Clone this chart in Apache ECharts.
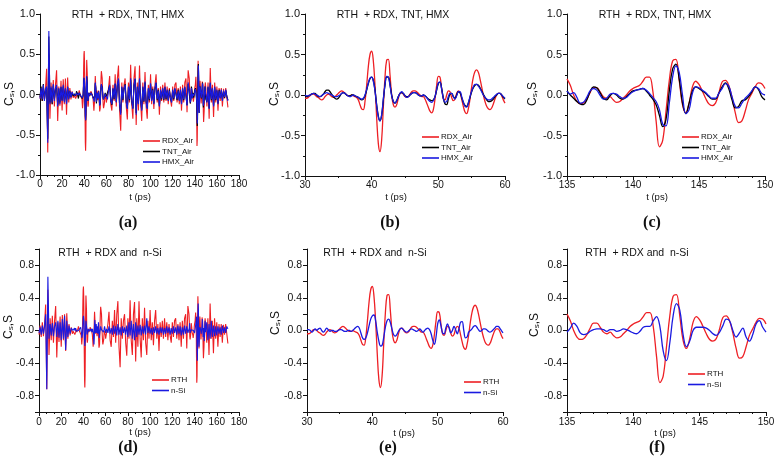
<!DOCTYPE html>
<html><head><meta charset="utf-8">
<script src="https://cdn.jsdelivr.net/npm/echarts@6/dist/echarts.min.js"></script>
<style>html,body{margin:0;padding:0;background:#fff}#c{width:781px;height:470px}</style>
</head><body><div id="c"></div>
<script>
// ---------- data: segments of the time signals ----------
// overview segments, 1 ps step: t = 0..29, 61..134, 151..170
// detailed segments, 0.25 ps step: t = 30..60 (B), 135..150 (C)
const rdxA0 = [-0.05,0.06,-0.08,0.10,-0.07,0.08,0.32,-0.72,0.50,-0.30,0.15,-0.12,0.18,-0.15,0.12,0.30,-0.33,0.10,-0.14,0.17,-0.20,0.19,-0.12,0.20,-0.25,0.21,-0.10,0.08,-0.06,0.04];
const tntA0 = [-0.03,0.10,-0.08,0.13,-0.06,0.05,0.08,-0.55,0.72,-0.10,0.08,-0.12,0.11,-0.06,0.07,0.10,-0.13,0.07,-0.10,0.09,-0.07,0.10,-0.08,0.07,-0.10,0.09,-0.05,0.04,-0.03,0.02];
const hmxA0 = [-0.05,0.08,-0.06,0.12,-0.08,0.06,0.10,-0.60,0.79,-0.12,0.10,-0.10,0.13,-0.08,0.08,0.12,-0.15,0.08,-0.12,0.10,-0.08,0.12,-0.10,0.08,-0.12,0.10,-0.06,0.05,-0.04,0.03];
const siA0  = [-0.03,0.04,-0.05,0.06,-0.04,0.05,0.20,-0.72,0.66,-0.10,0.08,-0.06,0.09,-0.07,0.05,0.10,-0.08,0.12,-0.09,0.10,-0.12,0.14,-0.10,0.18,-0.24,0.12,-0.08,0.06,-0.04,0.03];

const rdxB = [-0.04,-0.04,-0.03,-0.01,0.01,0.01,0.00,-0.02,
 -0.03,-0.05,-0.06,-0.05,-0.02,0.00,0.01,0.00,
 -0.02,-0.03,-0.02,0.00,0.02,0.04,0.05,0.04,
 0.02,0.00,-0.01,-0.01,0.00,-0.01,-0.02,-0.03,
 -0.06,-0.12,-0.17,-0.18,-0.08,0.12,0.35,0.50,
 0.54,0.42,0.12,-0.28,-0.60,-0.70,-0.55,-0.15,
 0.22,0.43,0.44,0.25,0.00,-0.12,-0.15,-0.12,
 -0.04,0.02,0.03,0.01,-0.02,-0.03,-0.02,0.01,
 0.04,0.05,0.05,0.04,0.02,0.00,-0.02,-0.02,
 -0.05,-0.10,-0.15,-0.20,-0.22,-0.18,-0.05,0.12,
 0.23,0.22,0.08,-0.04,-0.06,0.00,0.05,0.04,
 -0.03,-0.07,-0.05,0.02,0.05,0.03,-0.05,-0.14,
 -0.21,-0.23,-0.17,-0.05,0.10,0.22,0.29,0.31,
 0.28,0.20,0.10,0.00,-0.08,-0.14,-0.17,-0.18,
 -0.16,-0.11,-0.05,0.00,0.02,0.02,-0.01,-0.06,
 -0.10];
const tntB = [-0.02,-0.02,-0.01,0.00,0.01,0.02,0.02,0.00,
 -0.02,-0.02,-0.01,0.01,0.04,0.06,0.06,0.04,
 0.01,-0.02,-0.04,-0.05,-0.04,-0.01,0.02,0.03,
 0.02,0.00,-0.01,-0.01,0.00,0.00,-0.01,-0.02,
 -0.03,-0.05,-0.06,-0.05,-0.01,0.06,0.14,0.20,
 0.22,0.18,0.06,-0.12,-0.26,-0.32,-0.25,-0.06,
 0.12,0.22,0.22,0.13,0.00,-0.08,-0.10,-0.07,
 -0.02,0.02,0.03,0.02,-0.01,-0.02,-0.02,0.00,
 0.02,0.03,0.03,0.02,0.00,-0.01,-0.01,0.00,
 -0.01,-0.03,-0.05,-0.06,-0.07,-0.06,-0.02,0.06,
 0.14,0.16,0.08,-0.04,-0.11,-0.12,-0.05,0.01,
 0.02,-0.02,-0.04,0.00,0.04,0.03,-0.03,-0.09,
 -0.13,-0.14,-0.10,-0.03,0.04,0.09,0.12,0.13,
 0.12,0.09,0.05,0.01,-0.03,-0.06,-0.08,-0.08,
 -0.07,-0.05,-0.02,0.00,0.02,0.02,0.00,-0.03,
 -0.05];
const hmxB = [0.00,-0.01,-0.01,0.00,0.01,0.02,0.01,0.00,
 -0.01,-0.02,-0.01,0.01,0.02,0.03,0.02,0.01,
 0.00,-0.01,-0.02,-0.02,-0.01,0.00,0.02,0.03,
 0.02,0.00,-0.01,-0.02,-0.01,0.00,-0.01,-0.02,
 -0.03,-0.04,-0.05,-0.04,0.00,0.07,0.15,0.21,
 0.22,0.17,0.05,-0.13,-0.27,-0.32,-0.24,-0.05,
 0.13,0.23,0.22,0.12,-0.01,-0.08,-0.10,-0.07,
 -0.02,0.02,0.04,0.02,-0.01,-0.03,-0.02,0.00,
 0.02,0.03,0.03,0.02,0.00,-0.01,-0.01,0.00,
 -0.01,-0.03,-0.06,-0.08,-0.09,-0.07,-0.02,0.07,
 0.15,0.16,0.07,-0.04,-0.09,-0.08,-0.02,0.02,
 0.02,-0.02,-0.05,-0.01,0.04,0.04,-0.02,-0.09,
 -0.14,-0.15,-0.10,-0.02,0.05,0.10,0.13,0.13,
 0.11,0.08,0.04,0.00,-0.03,-0.05,-0.06,-0.06,
 -0.05,-0.03,-0.01,0.01,0.02,0.02,0.00,-0.02,
 -0.04];
const siB = [0.01,0.01,0.00,-0.02,0.00,0.02,0.00,0.02,
 0.03,0.00,-0.02,0.00,0.03,0.01,-0.01,0.00,
 0.00,-0.01,-0.01,0.00,0.01,0.01,0.00,-0.01,
 -0.01,0.00,0.00,-0.01,0.00,0.02,0.04,0.05,
 0.03,-0.03,-0.09,-0.11,-0.09,-0.03,0.06,0.14,
 0.18,0.19,0.12,-0.02,-0.13,-0.19,-0.18,-0.08,
 0.04,0.12,0.14,0.10,0.02,-0.05,-0.07,-0.05,
 -0.01,0.02,0.03,0.01,-0.01,-0.02,-0.01,0.01,
 0.02,0.01,0.00,-0.01,0.00,0.02,0.00,-0.02,
 0.00,0.02,0.03,0.01,-0.04,-0.12,-0.17,-0.08,
 0.08,0.13,0.06,-0.03,-0.04,0.03,0.08,0.03,
 -0.03,0.00,0.05,0.01,-0.04,0.02,0.10,0.11,
 0.00,-0.09,-0.08,-0.02,0.00,0.02,0.05,0.06,
 0.04,0.01,-0.01,0.00,0.02,0.02,0.01,-0.01,
 -0.02,-0.01,0.01,0.03,0.05,0.05,0.03,0.00,
 -0.03];

const rdxA1 = [-0.10,0.08,0.23,-0.12,-0.20,0.12,-0.08,0.25,-0.15,0.20,
 0.36,-0.20,-0.45,0.15,-0.10,0.12,0.20,-0.15,-0.31,0.15,
 -0.10,0.37,-0.12,-0.30,0.20,0.35,-0.38,0.15,-0.20,0.36,
 -0.10,-0.33,0.15,-0.12,0.28,-0.15,-0.30,0.12,-0.10,0.25,
 -0.12,0.10,-0.18,0.12,0.25,-0.10,0.08,-0.25,0.10,-0.08,
 0.12,-0.10,0.15,-0.08,0.10,-0.12,0.08,-0.06,-0.15,0.10,
 -0.08,0.12,0.15,-0.10,0.08,-0.12,0.10,-0.20,0.12,-0.10,
 0.15,0.20,-0.22,0.30];
const tntA1 = [-0.05,0.06,0.11,-0.07,-0.13,0.07,-0.06,0.13,-0.09,0.11,
 0.18,-0.13,-0.23,0.09,-0.07,0.07,0.13,-0.09,-0.17,0.09,
 -0.07,0.18,-0.09,-0.17,0.11,0.19,-0.23,0.09,-0.11,0.18,
 -0.07,-0.19,0.09,-0.09,0.15,-0.09,-0.17,0.07,-0.07,0.13,
 -0.07,0.07,-0.11,0.07,0.14,-0.07,0.06,-0.14,0.05,-0.06,
 0.07,-0.07,0.09,-0.06,0.05,-0.07,0.06,-0.05,-0.09,0.05,
 -0.06,0.07,0.09,-0.07,0.06,-0.07,0.05,-0.11,0.07,-0.07,
 0.09,0.11,-0.13,0.13];
const hmxA1 = [-0.06,0.05,0.12,-0.08,-0.12,0.08,-0.05,0.14,-0.10,0.12,
 0.20,-0.12,-0.25,0.10,-0.06,0.08,0.12,-0.10,-0.18,0.10,
 -0.06,0.20,-0.08,-0.18,0.12,0.20,-0.25,0.10,-0.12,0.20,
 -0.06,-0.20,0.10,-0.08,0.16,-0.10,-0.18,0.08,-0.06,0.14,
 -0.08,0.06,-0.12,0.08,0.15,-0.06,0.05,-0.15,0.06,-0.05,
 0.08,-0.06,0.10,-0.05,0.06,-0.08,0.05,-0.04,-0.10,0.06,
 -0.05,0.08,0.10,-0.06,0.05,-0.08,0.06,-0.12,0.08,-0.06,
 0.10,0.12,-0.14,0.15];
const siA1 = [0.02,-0.03,0.05,-0.04,0.03,-0.05,0.06,-0.04,0.05,-0.06,
 0.08,-0.05,0.04,-0.06,0.05,-0.03,0.04,-0.05,0.06,-0.08,
 0.10,-0.06,0.12,-0.10,0.08,-0.12,0.10,-0.08,0.06,-0.05,
 0.07,-0.06,0.05,-0.04,0.06,-0.05,0.15,-0.03,0.05,-0.04,
 0.03,-0.05,0.04,-0.03,0.05,-0.04,0.03,-0.05,0.04,-0.03,
 0.04,-0.05,0.03,-0.04,0.05,-0.03,0.04,-0.05,0.03,-0.04,
 0.05,-0.03,0.04,-0.05,0.06,-0.04,0.05,-0.06,0.04,-0.05,
 0.06,-0.04,0.05,-0.03];

const rdxC = [0.20,0.12,0.00,-0.08, -0.11,-0.10,-0.05,0.03, 0.09,0.09,0.04,-0.02,
 -0.04,-0.02,-0.06,-0.09, -0.08,-0.04,0.00,0.05, 0.08,0.10,0.12,0.17,
 0.22,0.22,0.05,-0.32, -0.64,-0.56,-0.20,0.18, 0.42,0.44,0.18,-0.12,
 -0.22,-0.10,0.10,0.17, 0.13,0.05,-0.04,-0.11, -0.13,-0.10,0.02,0.16,
 0.18,0.12,-0.03,-0.22, -0.34,-0.32,-0.20,-0.06, 0.02,0.10,0.15,0.14, 0.08];
const tntC = [0.05,0.00,-0.04,-0.08, -0.11,-0.12,-0.06,0.04, 0.10,0.09,0.03,-0.04,
 -0.06,-0.01,0.02,0.00, -0.04,-0.05,-0.02,0.02, 0.05,0.06,0.07,0.08,
 0.05,0.00,-0.05,-0.12, -0.25,-0.39,-0.30,0.05, 0.32,0.38,0.20,-0.10,
 -0.23,-0.10,0.05,0.10, 0.08,0.05,0.02,-0.02, -0.05,-0.05,0.02,0.10,
 0.15,0.08,-0.06,-0.16, -0.14,-0.07,-0.06,-0.02, 0.04,0.10,0.07,-0.02, -0.06];
const hmxC = [0.05,0.01,0.03,-0.03, -0.10,-0.09,-0.03,0.05, 0.08,0.06,0.00,-0.05,
 -0.04,0.01,0.02,0.01, -0.02,-0.04,-0.03,0.01, 0.04,0.06,0.07,0.08,
 0.06,0.02,-0.03,-0.08, -0.18,-0.36,-0.38,-0.10, 0.22,0.36,0.28,0.00,
 -0.23,-0.18,0.02,0.10, 0.09,0.06,0.03,-0.01, -0.04,-0.04,0.02,0.08,
 0.14,0.11,-0.02,-0.14, -0.16,-0.10,-0.04,0.00, 0.05,0.10,0.08,0.02, 0.00];
const siC = [-0.02,0.03,0.09,0.05, -0.03,-0.05,-0.04,-0.01, 0.01,0.02,0.02,0.01,
 -0.01,0.01,0.01,-0.01, 0.00,0.02,0.01,-0.01, -0.03,-0.04,-0.01,0.04,
 0.05,0.05,0.12,0.17, 0.05,-0.25,-0.37,-0.15, 0.18,0.33,0.25,-0.05,
 -0.20,-0.13,0.00,0.04, 0.04,0.04,0.03,0.00, -0.04,-0.06,-0.02,0.06,
 0.14,0.12,0.00,-0.08, -0.03,0.03,-0.08,-0.13, -0.05,0.08,0.12,0.04, -0.02];

const rdxA2 = [-0.15,0.15,-0.30,0.33,-0.10,0.12,-0.28,0.15,-0.10,0.10,-0.20,0.08,-0.08,0.08,-0.15,0.07,-0.05,0.08,-0.04,-0.16];
const tntA2 = [-0.09,0.09,-0.17,0.14,-0.07,0.07,-0.14,0.09,-0.07,0.05,-0.11,0.06,-0.04,0.05,-0.07,0.04,-0.04,0.05,-0.02,-0.07];
const hmxA2 = [-0.10,0.10,-0.18,0.15,-0.06,0.08,-0.15,0.10,-0.06,0.06,-0.12,0.05,-0.05,0.06,-0.08,0.05,-0.03,0.06,-0.03,-0.08];
const siA2  = [0.10,-0.12,0.08,-0.10,0.12,-0.08,0.06,-0.07,0.05,-0.06,0.05,-0.04,0.04,-0.05,0.06,-0.03,0.04,-0.03,0.05,0.02];

const legendTop = ['RDX_Air','TNT_Air','HMX_Air'];
const legendBottom = ['RTH','n-Si'];
const panelTitles = ['RTH  + RDX, TNT, HMX','RTH  + RDX and  n-Si'];
const panelLetters = ['(a)','(b)','(c)','(d)','(e)','(f)'];
const xLabel = 't (ps)';

// ---------- build ----------
function seg(t0, dt, vals){ return vals.map((v,i)=>[+(t0+i*dt).toFixed(3), v]); }
function full(a0,b,a1,c,a2){
  return [].concat(seg(0,1,a0), seg(30,0.25,b), seg(61,1,a1), seg(135,0.25,c), seg(151,1,a2));
}
const rdxFull = full(rdxA0, rdxB, rdxA1, rdxC, rdxA2);
const tntFull = full(tntA0, tntB, tntA1, tntC, tntA2);
const hmxFull = full(hmxA0, hmxB, hmxA1, hmxC, hmxA2);
const siFull  = full(siA0, siB, siA1, siC, siA2);

const RED = '#ee1f24', BLUE = '#1a1ae0', BLACK = '#000000';
const FONT = '"Liberation Sans", Arial, sans-serif';

const grids = [
  {left:40, top:14, width:199, height:161},
  {left:305, top:14, width:200, height:162},
  {left:567, top:14, width:198, height:162},
  {left:39, top:249, width:200, height:163},
  {left:307, top:249, width:196, height:163},
  {left:567, top:249, width:199, height:163}
].map(g => Object.assign({outerBoundsMode:'none', containLabel:false}, g));

const xr = [[0,180,20,3],[30,60,10,2],[135,150,5,5]];
function xAxis(i){
  const r = xr[i%3];
  return {type:'value', gridIndex:i, min:r[0], max:r[1], interval:r[2],
    axisLine:{show:true, onZero:false, lineStyle:{color:'#111', width:1}},
    axisTick:{show:true, inside:false, length:4, lineStyle:{color:'#111'}},
    minorTick:{show:true, splitNumber:r[3], length:2, lineStyle:{color:'#111'}},
    splitLine:{show:false}, minorSplitLine:{show:false},
    axisLabel:{fontSize:10, color:'#111', margin:i<3?4:5, fontFamily:FONT}};
}
function yAxis(i){
  const top = i<3;
  return {type:'value', gridIndex:i, min:-1, max:1, interval: top?0.5:0.2,
    axisLine:{show:true, onZero:false, lineStyle:{color:'#111', width:1}},
    axisTick:{show:true, inside:false, length:4, lineStyle:{color:'#111'}},
    minorTick:{show:top, splitNumber:2, length:2, lineStyle:{color:'#111'}},
    splitLine:{show:false}, minorSplitLine:{show:false},
    axisLabel:{fontSize:top?11:10.5, color:'#111', margin:5, fontFamily:FONT, showMinLabel:true, showMaxLabel:true,
      formatter: function(v){
        if (top) return v.toFixed(1);
        const k = Math.round(v*10);
        return (k % 4 === 0 && Math.abs(k) < 10) ? v.toFixed(1) : '';
      }}};
}

function line(name, data, color, gi, width, smooth){
  return {type:'line', name, data, xAxisIndex:gi, yAxisIndex:gi, symbol:'none', showSymbol:false,
    smooth: smooth, lineStyle:{color, width}, itemStyle:{color}, animation:false, silent:true};
}
const series = [
  line('RDX_Air', rdxFull, RED, 0, 1.1, false),
  line('TNT_Air', tntFull, BLACK, 0, 1.1, false),
  line('HMX_Air', hmxFull, BLUE, 0, 1.1, false),
  line('RDX_Air', seg(30,0.25,rdxB), RED, 1, 1.3, 0.4),
  line('TNT_Air', seg(30,0.25,tntB), BLACK, 1, 1.3, 0.4),
  line('HMX_Air', seg(30,0.25,hmxB), BLUE, 1, 1.3, 0.4),
  line('RDX_Air', seg(135,0.25,rdxC), RED, 2, 1.3, 0.4),
  line('TNT_Air', seg(135,0.25,tntC), BLACK, 2, 1.3, 0.4),
  line('HMX_Air', seg(135,0.25,hmxC), BLUE, 2, 1.3, 0.4),
  line('RTH', rdxFull, RED, 3, 1.1, false),
  line('n-Si', siFull, BLUE, 3, 1.1, false),
  line('RTH', seg(30,0.25,rdxB), RED, 4, 1.3, 0.4),
  line('n-Si', seg(30,0.25,siB), BLUE, 4, 1.3, 0.4),
  line('RTH', seg(135,0.25,rdxC), RED, 5, 1.3, 0.4),
  line('n-Si', seg(135,0.25,siC), BLUE, 5, 1.3, 0.4)
];

function legend(names, left, top){
  return {data:names, left, top, orient:'vertical', icon:'rect', itemWidth:17, itemHeight:1.6,
    itemGap:0.5, selectedMode:false, padding:0,
    textStyle:{fontSize:8, color:'#111', fontFamily:FONT, lineHeight:10, padding:[0,0,0,-3]}};
}
const legends = [
  legend(legendTop, 143, 136), legend(legendTop, 422, 132), legend(legendTop, 682, 132),
  legend(legendBottom, 152, 375), legend(legendBottom, 464, 377), legend(legendBottom, 688, 369)
];

function txt(x, y, text, font){
  return {type:'text', x, y, silent:true, style:{text, font, fill:'#111', align:'center', verticalAlign:'middle'}};
}
function yName(x, y){
  return {type:'text', x, y, rotation:Math.PI/2, silent:true,
    style:{text:'{c|C}{s|s}{c|,S}', align:'center', verticalAlign:'middle', fill:'#111',
      rich:{c:{fontSize:12, fontFamily:FONT, fill:'#111'}, s:{fontSize:8, fontFamily:FONT, fill:'#111', verticalAlign:'bottom'}}}};
}
const TF = '10.5px ' + FONT, LF = 'bold 16px "Liberation Serif", serif', AF = '9.5px ' + FONT;
const graphics = [
  txt(128, 15, panelTitles[0], TF), txt(393, 15, panelTitles[0], TF), txt(655, 15, panelTitles[0], TF),
  txt(110, 253, panelTitles[1], TF), txt(375, 253, panelTitles[1], TF), txt(637, 253, panelTitles[1], TF),
  txt(128, 223, panelLetters[0], LF), txt(390, 223, panelLetters[1], LF), txt(652, 223, panelLetters[2], LF),
  txt(128, 448, panelLetters[3], LF), txt(388, 448, panelLetters[4], LF), txt(657, 448, panelLetters[5], LF),
  txt(140, 197, xLabel, AF), txt(396, 197, xLabel, AF), txt(657, 197, xLabel, AF),
  txt(140, 432, xLabel, AF), txt(404, 433, xLabel, AF), txt(665, 433, xLabel, AF),
  yName(10, 94), yName(275, 94), yName(533, 94),
  yName(9, 327), yName(276, 323), yName(535, 325)
];

const chart = echarts.init(document.getElementById('c'), null, {renderer:'canvas'});
chart.setOption({
  animation:false,
  backgroundColor:'#ffffff',
  grid: grids,
  xAxis: [0,1,2,3,4,5].map(xAxis),
  yAxis: [0,1,2,3,4,5].map(yAxis),
  legend: legends,
  series,
  graphic: graphics
});
</script></body></html>
